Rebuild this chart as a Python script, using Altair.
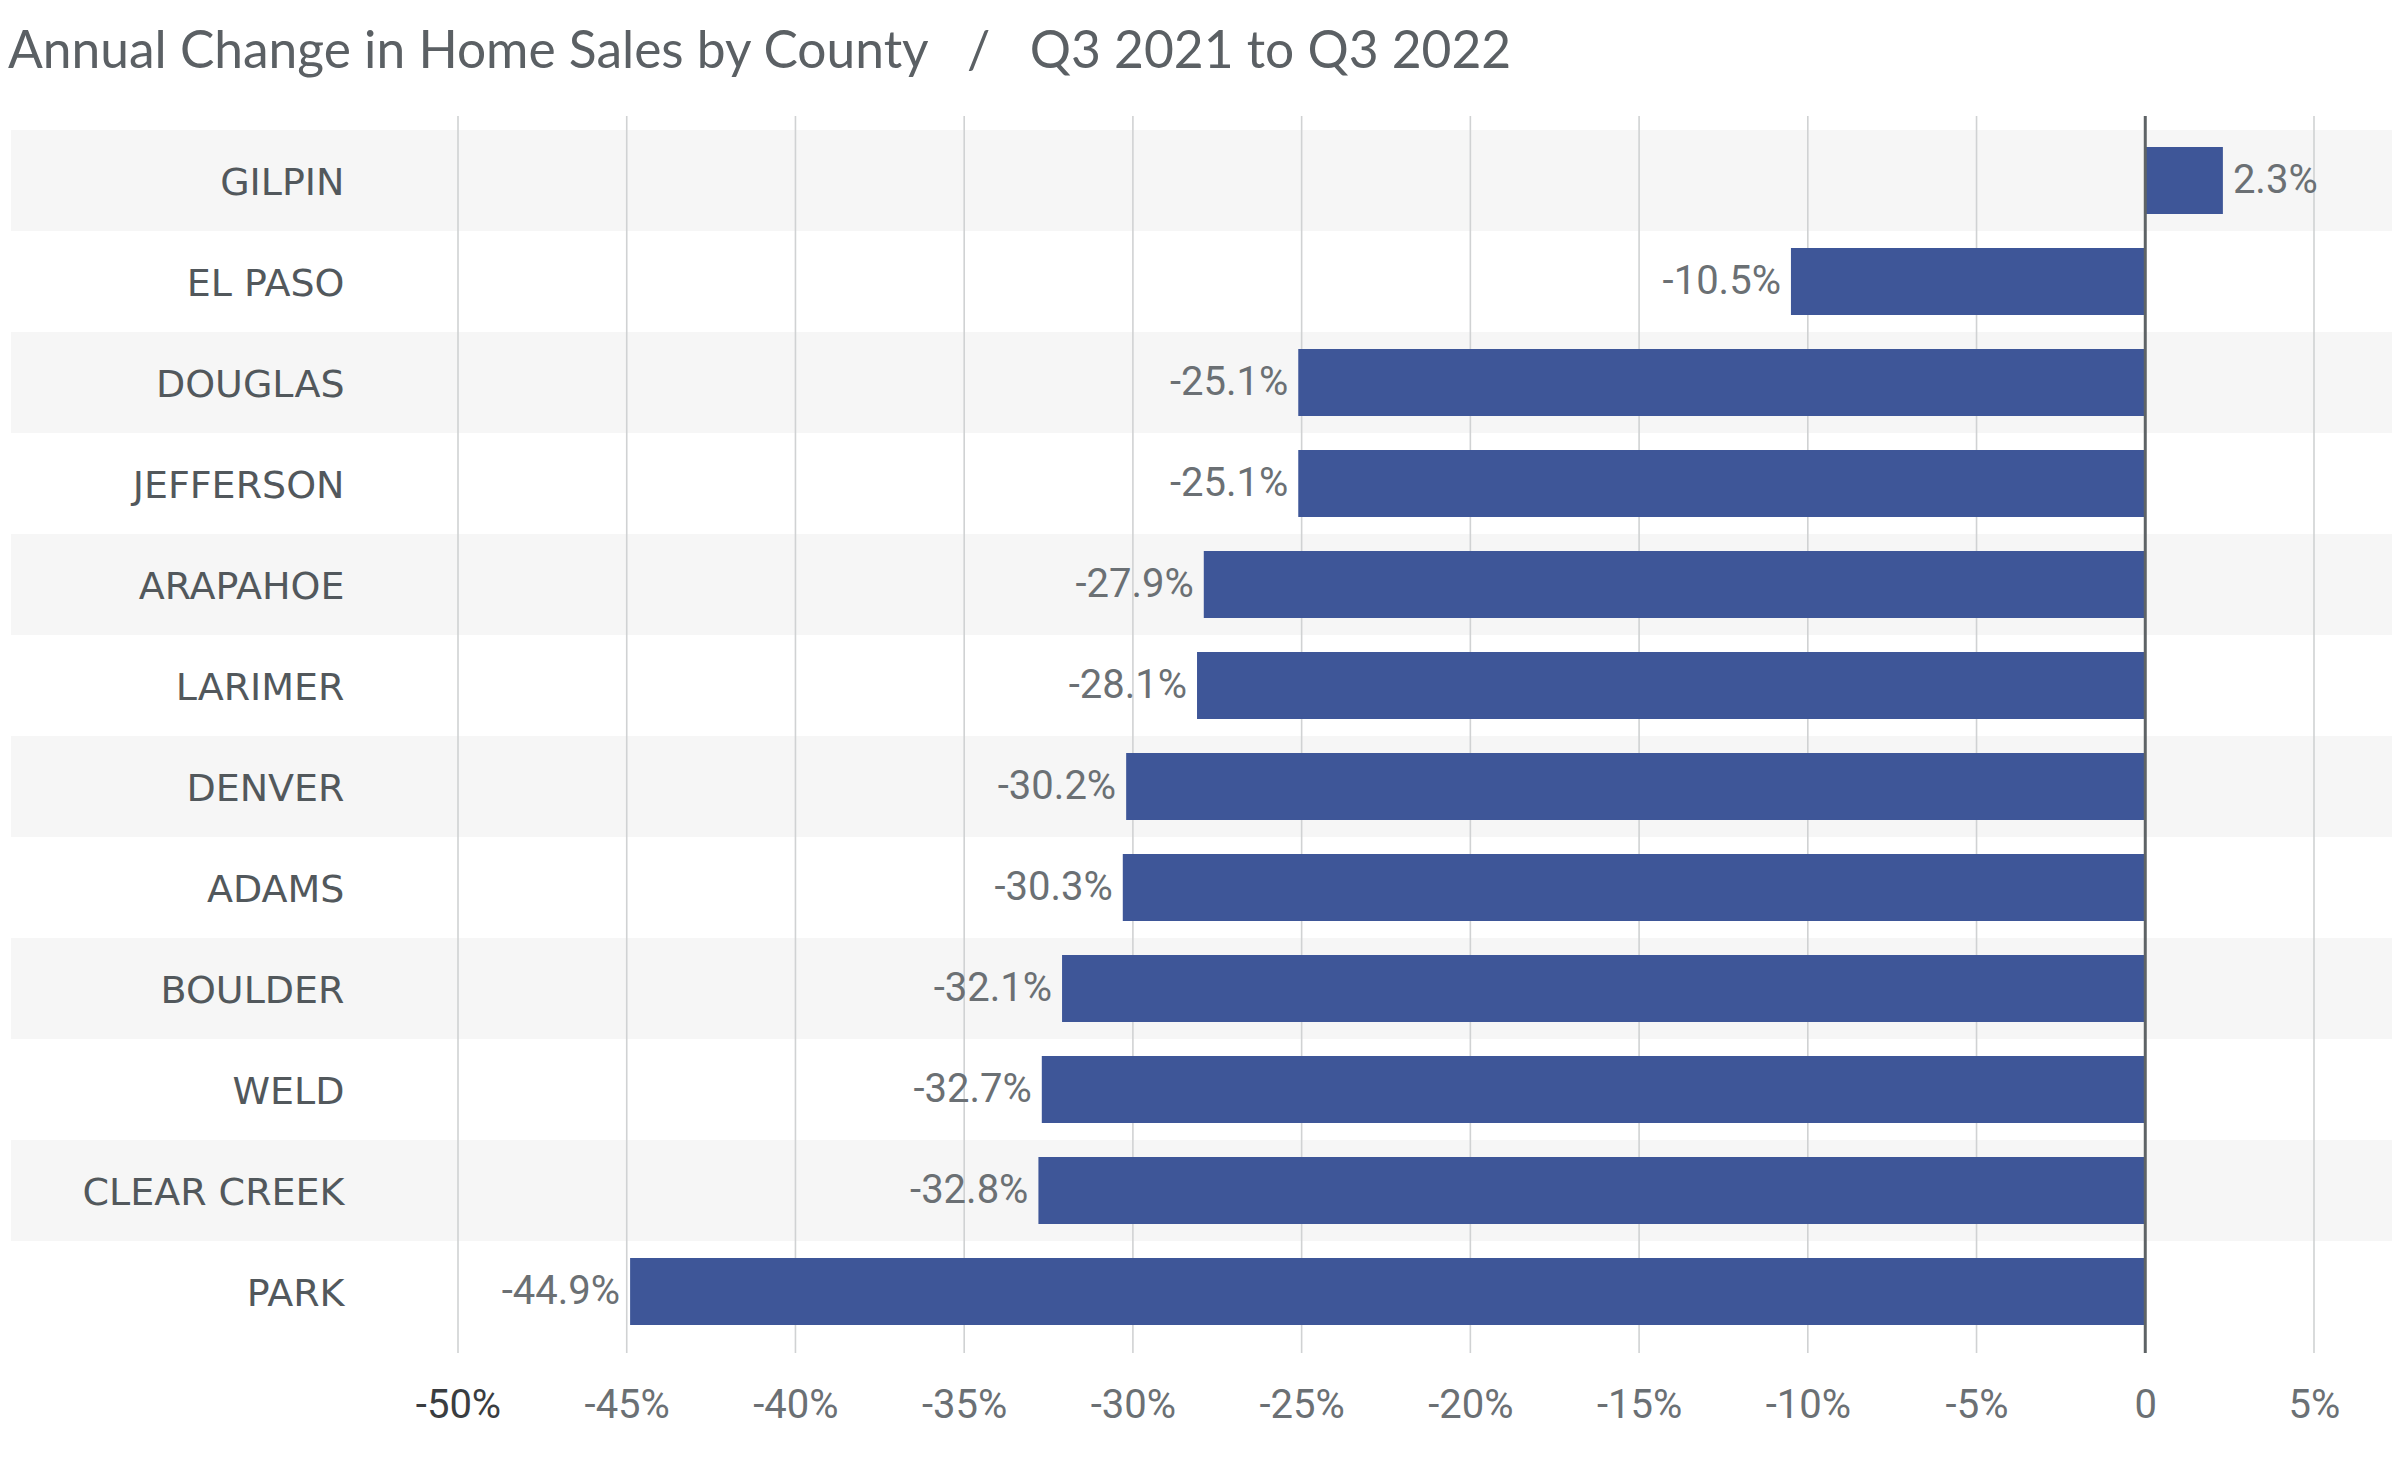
import altair as alt
import pandas as pd

counties = ["GILPIN", "EL PASO", "DOUGLAS", "JEFFERSON", "ARAPAHOE", "LARIMER",
            "DENVER", "ADAMS", "BOULDER", "WELD", "CLEAR CREEK", "PARK"]
changes = [2.3, -10.5, -25.1, -25.1, -27.9, -28.1, -30.2, -30.3, -32.1, -32.7, -32.8, -44.9]
tick_values = [-50, -45, -40, -35, -30, -25, -20, -15, -10, -5, 0, 5]

df = pd.DataFrame({
    "county": counties,
    "change": changes,
    "label": [f"{v:.1f}%" for v in changes],
    "shade": [i % 2 == 0 for i in range(len(counties))],
})
grid = pd.DataFrame({"tick": tick_values})

W, H = 1856, 1212
LEFT = 450
BAR = "#3E5698"
COND = "Roboto"

xscale = alt.Scale(domain=[-50, 5], nice=False, zero=False)
yscale = alt.Scale(paddingInner=0, paddingOuter=0)

yenc = alt.Y("county:N", sort=counties, scale=yscale, title=None,
             axis=alt.Axis(domain=False, ticks=False, grid=False, labelPadding=114,
                           labelFont="DejaVu Sans", labelFontSize=38, labelColor="#52585C",
                           labelLimit=0, labelOffset=3, zindex=1))
xaxis = alt.Axis(values=tick_values, domain=False, ticks=False, grid=False,
                 labelPadding=43, labelFont=COND, labelFontSize=40,
                 labelFlush=False, labelOverlap=False,
                 labelColor=alt.expr("datum.value == -50 ? '#3a3d40' : '#6b7074'"),
                 labelExpr="datum.value == 0 ? '0' : datum.value + '%'",
                 zindex=1, title=None)

bands = alt.Chart(df).transform_filter("datum.shade").mark_rect(color="#F6F6F6").encode(
    y=yenc,
    x=alt.value(-LEFT + 3),
    x2=alt.value(W + 90),
)

gridlines = alt.Chart(grid).transform_filter("datum.tick != 0").mark_rule(
    color="#D0D2D3", strokeWidth=1.6
).encode(
    x=alt.X("tick:Q", scale=xscale, axis=xaxis),
    y=alt.value(-14),
    y2=alt.value(H + 11),
)

bars = alt.Chart(df).mark_bar(size=67, color=BAR).encode(
    y=yenc,
    x=alt.X("change:Q", scale=xscale, axis=xaxis),
    x2=alt.datum(0),
)

zero = alt.Chart(grid).transform_filter("datum.tick == 0").mark_rule(
    color="#5E6366", strokeWidth=3
).encode(
    x=alt.X("tick:Q", scale=xscale, axis=xaxis),
    y=alt.value(-14),
    y2=alt.value(H + 11),
)

neg_labels = alt.Chart(df).transform_filter("datum.change < 0").mark_text(
    align="right", baseline="middle", dx=-10, font=COND, fontSize=40, color="#6B7074"
).encode(
    y=yenc,
    x=alt.X("change:Q", scale=xscale, axis=xaxis),
    text="label:N",
)

pos_labels = alt.Chart(df).transform_filter("datum.change >= 0").mark_text(
    align="left", baseline="middle", dx=10, font=COND, fontSize=40, color="#6B7074"
).encode(
    y=yenc,
    x=alt.X("change:Q", scale=xscale, axis=xaxis),
    text="label:N",
)

chart = alt.layer(bands, gridlines, bars, zero, neg_labels, pos_labels).properties(
    width=W,
    height=H,
    autosize=alt.AutoSizeParams(type="none"),
    padding={"left": LEFT, "top": 122, "right": 78, "bottom": 100},
    background="white",
    title=alt.TitleParams(
        text="Annual Change in Home Sales by County\u00a0\u00a0\u00a0/\u00a0\u00a0\u00a0Q3 2021 to Q3 2022",
        anchor="start", frame="bounds", dx=-3, font="Lato", fontSize=51.5, fontWeight="normal",
        color="#5B6064", offset=36,
    ),
).configure_view(stroke=None)

chart.save("out.html", embed_options={"renderer": "svg", "actions": False})
